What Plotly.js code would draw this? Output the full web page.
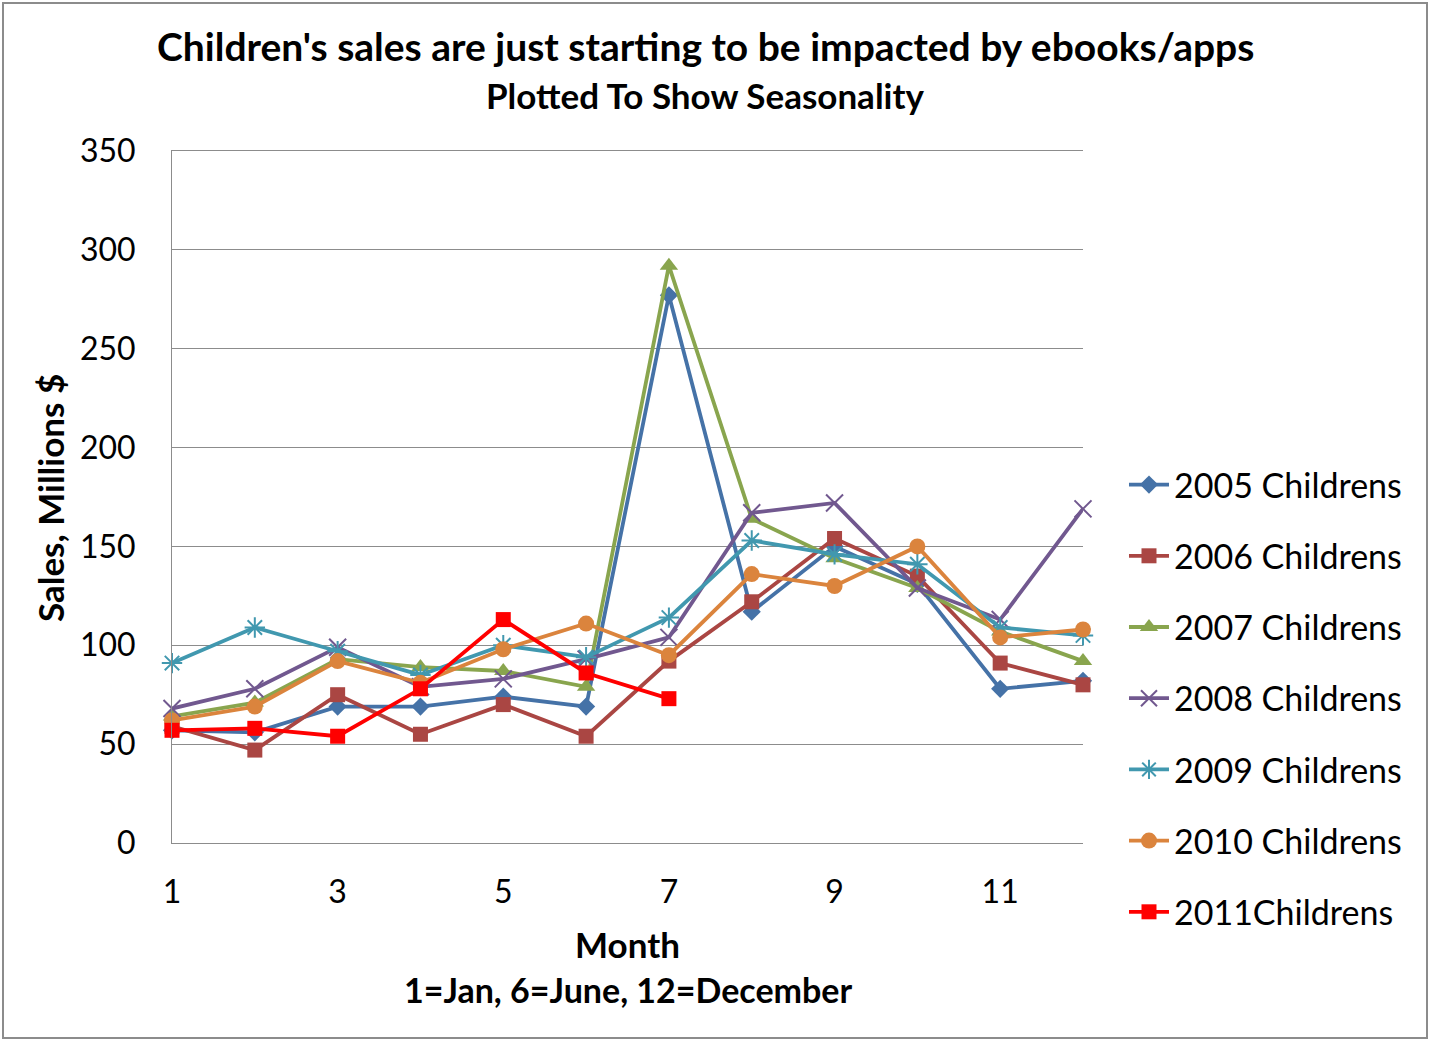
<!DOCTYPE html>
<html>
<head>
<meta charset="utf-8">
<script src="https://cdn.plot.ly/plotly-3.0.1.min.js"></script>
<style>
  body { margin: 0; padding: 0; background: #fff; }
  #wrap { position: relative; width: 1430px; height: 1041px; }
  #chart { position: absolute; left: 0; top: 0; width: 1430px; height: 1041px; }
  #frame { position: absolute; left: 2px; top: 2px; width: 1422px; height: 1033px; border: 2px solid #8c8c8c; pointer-events: none; }
</style>
</head>
<body>
<div id="wrap">
  <div id="chart"></div>
  <div id="frame"></div>
</div>
<script>
const months = [1,2,3,4,5,6,7,8,9,10,11,12];
const xTicks = [1,3,5,7,9,11];
const yTicks = [0,50,100,150,200,250,300,350];

const seriesNames = ["2005 Childrens","2006 Childrens","2007 Childrens","2008 Childrens","2009 Childrens","2010 Childrens","2011Childrens"];

const sales2005 = [57, 56, 69, 69, 74, 69, 277, 117, 150, 131, 78, 82];
const sales2006 = [59, 47, 75, 55, 70, 54, 92, 122, 154, 135, 91, 80];
const sales2007 = [64, 71, 93, 89, 87, 79, 292, 164, 144, 129, 107, 92];
const sales2008 = [68, 78, 99, 79, 83, 93, 104, 167, 172, 129, 113, 169];
const sales2009 = [91, 109, 97, 85, 100, 94, 114, 153, 146, 141, 109, 105];
const sales2010 = [62, 69, 92, 81, 98, 111, 95, 136, 130, 150, 104, 108];
const sales2011 = [57, 58, 54, 78, 113, 86, 73];

const seriesValues = [sales2005, sales2006, sales2007, sales2008, sales2009, sales2010, sales2011];
const colors = ["#4572A7","#AA4643","#89A54E","#71588F","#4198AF","#DB843D","#FF0000"];
const symbols = ["diamond","square","triangle-up","x-thin-open","asterisk-open","circle","square"];
const sizes = [14, 15, 16, 17, 17, 16, 15];

const FONT = "Lato, 'Open Sans', sans-serif";

const traces = seriesValues.map((vals, i) => ({
  type: "scatter",
  mode: "lines+markers",
  name: seriesNames[i],
  legendgroup: "g" + i,
  x: months.slice(0, vals.length),
  y: vals,
  line: { color: colors[i], width: 3.8 },
  marker: { symbol: symbols[i], size: sizes[i], color: colors[i],
            line: { color: colors[i], width: (symbols[i].indexOf("open") >= 0) ? 2 : 0 } },
  cliponaxis: false
}));

const layout = {
  width: 1430, height: 1041,
  margin: { l: 172, r: 347, t: 151, b: 198 },
  paper_bgcolor: "#ffffff",
  plot_bgcolor: "#ffffff",
  font: { family: FONT, color: "#000000" },
  showlegend: true,
  legend: {
    x: 1.045, xanchor: "left", y: (843-698.5)/692, yanchor: "middle",
    font: { family: FONT, size: 34, color: "#000" },
    tracegroupgap: 24,
    itemwidth: 40,
    bgcolor: "rgba(0,0,0,0)"
  },
  xaxis: {
    range: [1, 12],
    tickvals: xTicks,
    ticktext: xTicks.map(String),
    showgrid: false,
    zeroline: false,
    showline: true,
    mirror: true,
    linecolor: "#8c8c8c",
    linewidth: 1,
    ticks: "",
    ticklabelstandoff: 21,
    tickfont: { family: FONT, size: 32, color: "#000" },
    automargin: false
  },
  yaxis: {
    range: [0, 350],
    tickvals: yTicks,
    ticktext: yTicks.map(String),
    showgrid: true,
    gridcolor: "#8c8c8c",
    gridwidth: 1,
    zeroline: false,
    showline: true,
    linecolor: "#8c8c8c",
    linewidth: 1,
    ticks: "",
    ticklabelstandoff: 29,
    tickfont: { family: FONT, size: 32, color: "#000" },
    automargin: false
  },
  annotations: [
    { text: "<b>Children's sales are just starting to be impacted by ebooks/apps</b>",
      xref: "paper", yref: "paper", x: (705-172)/911, y: (843-46)/692,
      xanchor: "center", yanchor: "middle", showarrow: false,
      font: { family: FONT, size: 39, color: "#000" } },
    { text: "<b>Plotted To Show Seasonality</b>",
      xref: "paper", yref: "paper", x: (705-172)/911, y: (843-95)/692,
      xanchor: "center", yanchor: "middle", showarrow: false,
      font: { family: FONT, size: 35, color: "#000" } },
    { text: "<b>Sales, Millions $</b>",
      xref: "paper", yref: "paper", x: (50-172)/911, y: (843-498)/692,
      xanchor: "center", yanchor: "middle", showarrow: false, textangle: -90,
      font: { family: FONT, size: 35, color: "#000" } },
    { text: "<b>Month</b>",
      xref: "paper", yref: "paper", x: 0.5, y: (843-944)/692,
      xanchor: "center", yanchor: "middle", showarrow: false,
      font: { family: FONT, size: 35, color: "#000" } },
    { text: "<b>1=Jan, 6=June, 12=December</b>",
      xref: "paper", yref: "paper", x: 0.5, y: (843-989)/692,
      xanchor: "center", yanchor: "middle", showarrow: false,
      font: { family: FONT, size: 34, color: "#000" } }
  ]
};

Plotly.newPlot("chart", traces, layout, { displayModeBar: false, staticPlot: true });
</script>
</body>
</html>
